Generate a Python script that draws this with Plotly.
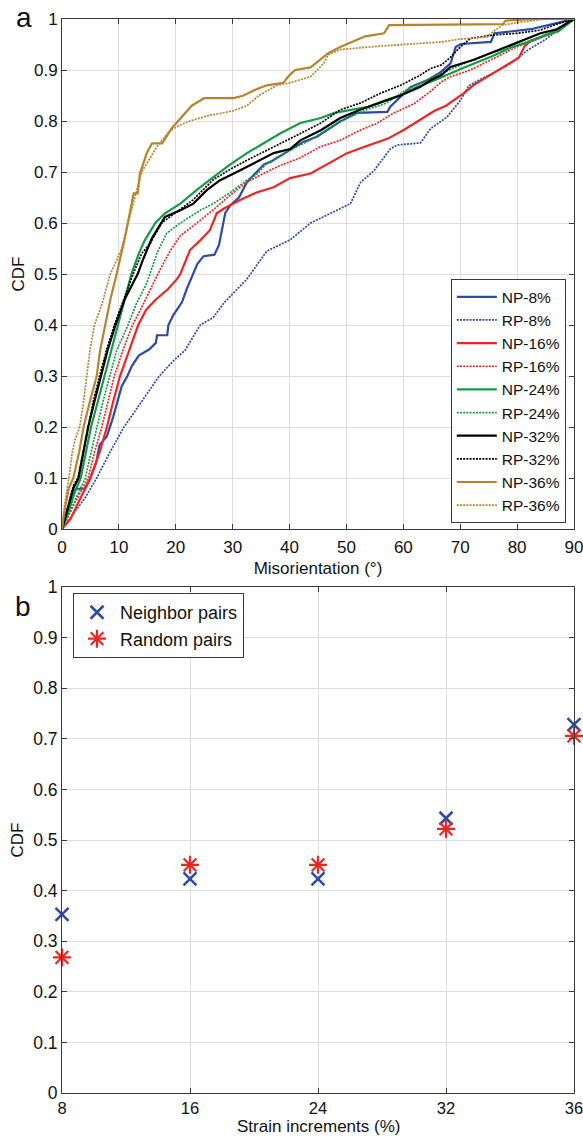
import plotly.graph_objects as go

# ---------------- Panel a data: CDF curves (misorientation in degrees, CDF) ----------------
np8_x = [0, 1, 2.4, 4, 4.8, 6, 6.6, 7.9, 9.0, 10.5, 11.5, 12.3, 13.5, 15.3, 16.5, 16.7, 18.5, 18.7, 19.6, 21.1, 21.9, 23.1, 23.8, 24.9, 26.8, 27.6, 28.1, 28.7, 29.6, 31.1, 32.5, 34.2, 35.5, 36.7, 40.1, 42.4, 44.8, 47.0, 48.9, 51.9, 57.2, 57.7, 61.3, 64.2, 66.5, 68.3, 69.2, 70.1, 75.4, 76.0, 82.4, 87.3, 90]
np8_y = [0, 0.03, 0.079, 0.079, 0.095, 0.13, 0.165, 0.182, 0.22, 0.28, 0.30, 0.32, 0.34, 0.352, 0.365, 0.38, 0.38, 0.40, 0.42, 0.445, 0.47, 0.50, 0.52, 0.535, 0.538, 0.557, 0.583, 0.62, 0.635, 0.65, 0.68, 0.70, 0.715, 0.72, 0.743, 0.759, 0.769, 0.785, 0.799, 0.816, 0.818, 0.828, 0.867, 0.88, 0.895, 0.913, 0.945, 0.951, 0.955, 0.972, 0.98, 0.993, 1.0]

rp8_x = [0, 2, 4, 6.1, 8.4, 10.9, 14, 17.1, 19.6, 21.6, 24.3, 26.6, 28.6, 32.5, 36, 40.1, 43.7, 46, 50.7, 52.5, 54.8, 57.7, 58.9, 63, 64.8, 67.7, 70, 71.5, 73.6, 76, 78.9, 82, 85, 88, 90]
rp8_y = [0, 0.03, 0.06, 0.10, 0.15, 0.20, 0.25, 0.30, 0.33, 0.35, 0.40, 0.415, 0.445, 0.49, 0.545, 0.567, 0.60, 0.613, 0.638, 0.68, 0.702, 0.745, 0.753, 0.757, 0.785, 0.808, 0.84, 0.869, 0.882, 0.895, 0.913, 0.94, 0.96, 0.985, 1.0]

np16_x = [0, 1.5, 2.8, 5, 6.6, 7.9, 9.0, 10.2, 11.8, 13.4, 14.8, 16.5, 18.6, 20.2, 20.8, 22.5, 24.3, 26, 27.2, 28.4, 31.3, 34.2, 37.2, 40.1, 43.7, 47.5, 50.1, 53.3, 57.2, 60, 62, 63.6, 65.5, 67.5, 70.7, 72.4, 74.5, 76.5, 78.9, 80.3, 81.3, 82.4, 84.1, 86.4, 88.2, 90]
np16_y = [0, 0.02, 0.05, 0.10, 0.15, 0.20, 0.25, 0.30, 0.35, 0.40, 0.43, 0.45, 0.47, 0.49, 0.50, 0.547, 0.566, 0.586, 0.619, 0.628, 0.645, 0.66, 0.67, 0.688, 0.697, 0.72, 0.737, 0.75, 0.765, 0.782, 0.796, 0.808, 0.82, 0.83, 0.855, 0.871, 0.885, 0.90, 0.915, 0.924, 0.946, 0.958, 0.964, 0.974, 0.987, 1.0]

rp16_x = [0, 2.2, 4.6, 5.7, 7, 8.1, 9.2, 10.7, 12.4, 13.8, 15.5, 17.3, 19, 20.8, 23.7, 26.6, 29.6, 32.5, 35.4, 38.4, 41.9, 45.5, 48.9, 52.4, 55.3, 58.2, 61.9, 65, 66.7, 68.3, 71.8, 75.4, 77.7, 80.1, 82.4, 85.9, 88.2, 90]
rp16_y = [0, 0.05, 0.10, 0.15, 0.20, 0.25, 0.30, 0.35, 0.40, 0.43, 0.47, 0.51, 0.545, 0.575, 0.60, 0.626, 0.655, 0.68, 0.697, 0.713, 0.728, 0.75, 0.762, 0.782, 0.795, 0.815, 0.834, 0.86, 0.877, 0.887, 0.90, 0.92, 0.932, 0.946, 0.955, 0.972, 0.985, 1.0]

np24_x = [0, 1, 2, 3.3, 4.2, 5.1, 6.3, 7.5, 8.6, 9.9, 11, 12.2, 13.5, 14.5, 16.4, 18.1, 20.8, 23.7, 26.6, 29.6, 32.5, 35.4, 38.4, 41.9, 45.5, 47.9, 50.8, 53.8, 56.7, 59.6, 62.5, 65.5, 70.7, 75.4, 78.9, 82, 84.7, 87.3, 90]
np24_y = [0, 0.03, 0.065, 0.10, 0.15, 0.20, 0.25, 0.30, 0.35, 0.40, 0.45, 0.50, 0.54, 0.565, 0.60, 0.619, 0.638, 0.665, 0.69, 0.715, 0.737, 0.756, 0.776, 0.796, 0.806, 0.816, 0.822, 0.828, 0.84, 0.851, 0.867, 0.88, 0.905, 0.926, 0.944, 0.955, 0.967, 0.976, 1.0]

rp24_x = [0, 2, 4.1, 5.1, 6.1, 7.2, 8.4, 9.6, 11.6, 13, 14.9, 16.7, 18.4, 20.8, 24.3, 26.6, 29.6, 32.5, 34.2, 36, 40.1, 43.7, 48.9, 53.5, 57, 60.5, 65.4, 70.7, 75.4, 79, 82.4, 87.7, 90]
rp24_y = [0, 0.05, 0.10, 0.15, 0.20, 0.25, 0.30, 0.35, 0.40, 0.44, 0.482, 0.541, 0.58, 0.60, 0.625, 0.638, 0.66, 0.684, 0.695, 0.717, 0.743, 0.763, 0.80, 0.822, 0.835, 0.861, 0.887, 0.913, 0.933, 0.945, 0.958, 0.982, 1.0]

np32_x = [0, 1, 2, 2.9, 3.8, 4.6, 5.7, 6.8, 8, 9.4, 11, 13.3, 14.3, 15.8, 18.1, 20.8, 23.1, 25.5, 27.8, 30.2, 32.5, 34.9, 37.2, 40.1, 41.9, 45.5, 48.9, 52.4, 57.2, 59.5, 63, 64.8, 66.7, 68.3, 72.4, 76.6, 80.1, 84.1, 87, 90]
np32_y = [0, 0.04, 0.08, 0.10, 0.15, 0.20, 0.25, 0.30, 0.35, 0.40, 0.45, 0.50, 0.53, 0.57, 0.612, 0.625, 0.638, 0.665, 0.684, 0.697, 0.71, 0.723, 0.737, 0.745, 0.762, 0.782, 0.806, 0.822, 0.84, 0.85, 0.867, 0.88, 0.89, 0.906, 0.92, 0.939, 0.955, 0.972, 0.98, 1.0]

rp32_x = [0, 1, 2, 2.8, 3.7, 4.5, 5.5, 6.6, 7.8, 9.2, 10.8, 12.5, 14, 15.5, 17.5, 20, 23, 26.6, 29.5, 32.5, 37.2, 42, 45.5, 48.9, 52.4, 55.9, 59.5, 63, 64.8, 66.7, 68.3, 70, 71.8, 75.4, 80, 84, 87, 90]
rp32_y = [0, 0.045, 0.085, 0.10, 0.15, 0.20, 0.25, 0.30, 0.35, 0.40, 0.45, 0.50, 0.54, 0.56, 0.60, 0.62, 0.645, 0.685, 0.705, 0.723, 0.75, 0.776, 0.796, 0.822, 0.835, 0.854, 0.87, 0.89, 0.903, 0.91, 0.925, 0.945, 0.962, 0.968, 0.972, 0.978, 0.99, 1.0]

np36_x = [0, 0.5, 1.2, 2.0, 3.0, 3.8, 4.9, 6.1, 6.7, 7.6, 8.5, 9.6, 11.1, 12.6, 13.3, 13.7, 14.9, 15.8, 17.6, 19.3, 21.4, 22.8, 25, 30.2, 31.9, 33.7, 36, 38.9, 40, 41, 43.7, 46.8, 48.9, 51.9, 53.3, 56.6, 57.5, 77.5, 78, 83.3, 90]
np36_y = [0, 0.04, 0.08, 0.10, 0.15, 0.20, 0.25, 0.30, 0.35, 0.40, 0.45, 0.50, 0.573, 0.658, 0.658, 0.697, 0.737, 0.756, 0.756, 0.786, 0.812, 0.83, 0.845, 0.845, 0.85, 0.86, 0.87, 0.875, 0.89, 0.90, 0.905, 0.933, 0.945, 0.959, 0.966, 0.972, 0.988, 0.99, 0.997, 1.0, 1.0]

rp36_x = [0, 0.5, 1.2, 1.8, 2.3, 3.1, 3.8, 4.3, 4.9, 5.7, 7, 8.5, 10.5, 11.6, 12.8, 14, 16.7, 18.9, 20.4, 22.5, 25.5, 30.1, 32.5, 34.6, 37.8, 40.1, 43.7, 46, 46.8, 48.9, 54.8, 61.9, 66.6, 69.5, 74.8, 75.4, 77.4, 80, 82.4, 85, 90]
rp36_y = [0, 0.05, 0.10, 0.15, 0.175, 0.20, 0.25, 0.30, 0.35, 0.40, 0.44, 0.50, 0.55, 0.60, 0.65, 0.70, 0.75, 0.78, 0.79, 0.80, 0.81, 0.82, 0.83, 0.85, 0.87, 0.875, 0.887, 0.913, 0.93, 0.94, 0.946, 0.952, 0.955, 0.96, 0.965, 0.972, 0.988, 0.993, 0.997, 1.0, 1.0]

# ---------------- Panel b data ----------------
strain_labels = ["8", "16", "24", "32", "36"]
neighbor_cdf = [0.353, 0.423, 0.423, 0.543, 0.728]
random_cdf = [0.268, 0.451, 0.451, 0.522, 0.706]

BLUE = "#2c4aa6"
RED = "#ee2622"
GREEN = "#179a45"
BLACK = "#000000"
GOLD = "#b5852e"
FONT = "Liberation Sans, Arial, sans-serif"

series = [
    ("NP-8%", np8_x, np8_y, BLUE, "solid"),
    ("RP-8%", rp8_x, rp8_y, BLUE, "dot"),
    ("NP-16%", np16_x, np16_y, RED, "solid"),
    ("RP-16%", rp16_x, rp16_y, RED, "dot"),
    ("NP-24%", np24_x, np24_y, GREEN, "solid"),
    ("RP-24%", rp24_x, rp24_y, GREEN, "dot"),
    ("NP-32%", np32_x, np32_y, BLACK, "solid"),
    ("RP-32%", rp32_x, rp32_y, BLACK, "dot"),
    ("NP-36%", np36_x, np36_y, GOLD, "solid"),
    ("RP-36%", rp36_x, rp36_y, GOLD, "dot"),
]

fig = go.Figure()
for name, xs, ys, col, style in series:
    if style == "solid":
        line = dict(color=col, width=2.2)
    else:
        line = dict(color=col, width=1.7, dash="2px,1.2px")
    fig.add_trace(go.Scatter(x=xs, y=ys, mode="lines", name=name, line=line,
                             xaxis="x", yaxis="y", legend="legend"))

fig.add_trace(go.Scatter(x=strain_labels, y=neighbor_cdf, mode="markers", name="Neighbor pairs",
                         marker=dict(symbol="x-thin-open", size=13, color=BLUE,
                                     line=dict(color=BLUE, width=2.5)),
                         cliponaxis=False, xaxis="x2", yaxis="y2", legend="legend2"))
fig.add_trace(go.Scatter(x=strain_labels, y=random_cdf, mode="markers", name="Random pairs",
                         marker=dict(symbol="asterisk-open", size=15, color=RED,
                                     line=dict(color=RED, width=2.2)),
                         cliponaxis=False, xaxis="x2", yaxis="y2", legend="legend2"))

def axis_common(fs):
    return dict(showline=True, linecolor="#3a3a3a", linewidth=1, mirror="ticks",
                ticks="inside", ticklen=5, tickcolor="#3a3a3a", automargin=False,
                ticklabeloverflow="allow",
                showgrid=True, gridcolor="#dedede", gridwidth=1, zeroline=False,
                tickfont=dict(family=FONT, size=fs, color="#111"))

plot_w = 583 - 62 - 9
plot_h = 1136 - 19 - 43
def px_to_paper(px, py):
    return (px - 62) / plot_w, (1136 - 43 - py) / plot_h

fig.update_layout(
    width=583, height=1136,
    margin=dict(l=62, r=9, t=19, b=43, autoexpand=False),
    paper_bgcolor="white", plot_bgcolor="white",
    font=dict(family=FONT, size=16, color="#111"),
    xaxis=dict(domain=[0, 1], range=[0, 90], dtick=10, anchor="y", ticklabelstandoff=3,
               title=dict(text="Misorientation (°)", font=dict(size=17), standoff=5), **axis_common(17)),
    yaxis=dict(domain=[0.5251, 1], range=[0, 1], dtick=0.1, anchor="x",
               title=dict(text="CDF", font=dict(size=17), standoff=5), **axis_common(17)),
    xaxis2=dict(domain=[0, 1], type="category", range=[0, 4], anchor="y2", ticklabelstandoff=0,
                **axis_common(16.5)),
    yaxis2=dict(domain=[0, 0.4711], range=[0, 1], dtick=0.1, anchor="x2",
                title=dict(text="CDF", font=dict(size=17), standoff=5), **axis_common(17.5)),
    legend=dict(x=0.984, y=0.5305, xanchor="right", yanchor="bottom",
                bgcolor="white", bordercolor="#3a3a3a", borderwidth=1,
                font=dict(family=FONT, size=15.5, color="#111"), itemwidth=40,
                tracegroupgap=0),
    legend2=dict(x=0.0215, y=0.4655, xanchor="left", yanchor="top",
                 bgcolor="white", bordercolor="#3a3a3a", borderwidth=1,
                 font=dict(family=FONT, size=18, color="#111"), itemwidth=36),
    showlegend=True,
)

# x-axis title of panel b as an annotation so it sits just below the tick labels
tx, ty = px_to_paper(318, 1126.5)
fig.add_annotation(text="Strain increments (%)", x=0.5, y=ty, xref="paper", yref="paper",
                   showarrow=False, xanchor="center", yanchor="middle",
                   font=dict(family=FONT, size=17, color="#111"))

ax, ay = px_to_paper(24, 17)
bx, by = px_to_paper(23, 606)
fig.add_annotation(text="a", x=ax, y=ay, xref="paper", yref="paper", showarrow=False,
                   xanchor="center", yanchor="middle",
                   font=dict(family=FONT, size=28, color="#111"))
fig.add_annotation(text="b", x=bx, y=by, xref="paper", yref="paper", showarrow=False,
                   xanchor="center", yanchor="middle",
                   font=dict(family=FONT, size=28, color="#111"))

fig.write_html("out.html")
